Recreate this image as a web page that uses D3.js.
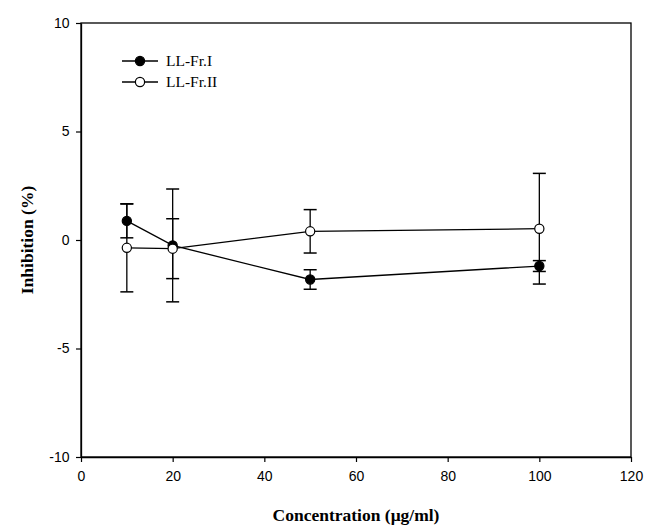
<!DOCTYPE html>
<html><head><meta charset="utf-8">
<script src="https://cdn.jsdelivr.net/npm/d3@7"></script>
<style>body{margin:0;background:#fff}</style>
</head><body>
<svg id="c" width="646" height="530"></svg>
<script>
const concentrations = [10, 20, 50, 100];
const seriesNames = ["LL-Fr.I", "LL-Fr.II"];
const frIMean = [0.88, -0.25, -1.82, -1.2];
const frIErr = [0.78, 2.6, 0.45, 0.25];
const frIIMean = [-0.36, -0.4, 0.4, 0.52];
const frIIErr = [2.03, 1.38, 1.0, 2.55];
const xTicks = [0, 20, 40, 60, 80, 100, 120];
const yTicks = [-10, -5, 0, 5, 10];

const svg = d3.select("#c");
const m = {l: 81, r: 15, t: 23, b: 73};
const W = 646, H = 530;
const x = d3.scaleLinear().domain([0, 120]).range([m.l, W - m.r]);
const y = d3.scaleLinear().domain([-10, 10]).range([H - m.b, m.t]);
const fmt = d => String(d);

svg.append("rect").attr("x", x(0)).attr("y", y(10)).attr("width", x(120) - x(0)).attr("height", y(-10) - y(10))
  .attr("fill", "none").attr("stroke", "#000").attr("stroke-width", 1.3);

const xa = svg.append("g").attr("transform", `translate(0,${y(-10)})`)
  .call(d3.axisBottom(x).tickValues(xTicks).tickSize(5).tickSizeOuter(0).tickFormat(fmt));
const ya = svg.append("g").attr("transform", `translate(${x(0)},0)`)
  .call(d3.axisLeft(y).tickValues(yTicks).tickSize(5).tickSizeOuter(0).tickFormat(fmt));
[xa, ya].forEach(a => {
  a.select(".domain").attr("stroke-width", 1.3);
  a.selectAll("line").attr("stroke-width", 1.2);
  a.selectAll("text").attr("font-family", "Liberation Sans, Arial, sans-serif").attr("font-size", 14).attr("fill", "#000");
});
xa.selectAll("text").attr("dy", "1.15em");
ya.selectAll("text").attr("dx", "-0.25em");

svg.append("text").attr("x", (x(0) + x(120)) / 2).attr("y", 521).attr("text-anchor", "middle")
  .attr("font-family", "Liberation Serif, Times New Roman, serif").attr("font-weight", "bold").attr("font-size", 17.5)
  .text("Concentration (μg/ml)");
svg.append("text").attr("transform", `translate(33,${y(0)}) rotate(-90)`).attr("text-anchor", "middle")
  .attr("font-family", "Liberation Serif, Times New Roman, serif").attr("font-weight", "bold").attr("font-size", 17.5)
  .text("Inhibition (%)");

const series = [
  {name: seriesNames[0], mean: frIMean, err: frIErr, fill: "#000"},
  {name: seriesNames[1], mean: frIIMean, err: frIIErr, fill: "#fff"}
];
const line = d3.line().x(d => x(d.c)).y(d => y(d.v));
series.forEach(s => {
  const pts = concentrations.map((c, i) => ({c, v: s.mean[i], e: s.err[i]}));
  const g = svg.append("g");
  g.append("path").datum(pts).attr("d", line).attr("fill", "none").attr("stroke", "#000").attr("stroke-width", 1.3);
  pts.forEach(p => {
    g.append("line").attr("x1", x(p.c)).attr("x2", x(p.c)).attr("y1", y(p.v - p.e)).attr("y2", y(p.v + p.e)).attr("stroke", "#000").attr("stroke-width", 1.3);
    [p.v - p.e, p.v + p.e].forEach(v => g.append("line").attr("x1", x(p.c) - 6.5).attr("x2", x(p.c) + 6.5).attr("y1", y(v)).attr("y2", y(v)).attr("stroke", "#000").attr("stroke-width", 1.5));
  });
  g.selectAll("circle").data(pts).join("circle").attr("cx", d => x(d.c)).attr("cy", d => y(d.v)).attr("r", 4.6)
    .attr("fill", s.fill).attr("stroke", "#000").attr("stroke-width", 1.2);
});

series.forEach((s, i) => {
  const ly = 61 + i * 21;
  svg.append("line").attr("x1", 122).attr("x2", 158).attr("y1", ly).attr("y2", ly).attr("stroke", "#000").attr("stroke-width", 1.3);
  svg.append("circle").attr("cx", 140).attr("cy", ly).attr("r", 4.6).attr("fill", s.fill).attr("stroke", "#000").attr("stroke-width", 1.2);
  svg.append("text").attr("x", 166).attr("y", ly + 5).attr("font-family", "Liberation Serif, Times New Roman, serif").attr("font-size", 15.5).text(s.name);
});
</script>
</body></html>
